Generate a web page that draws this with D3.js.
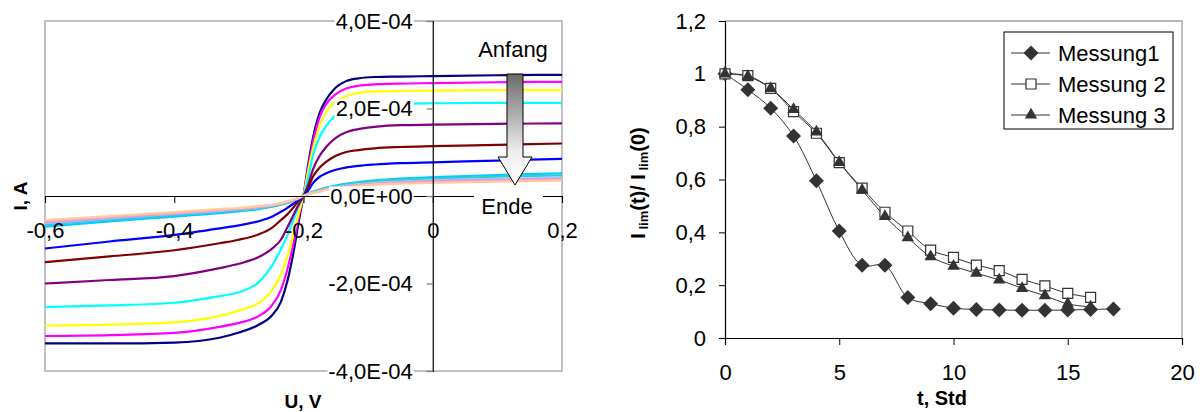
<!DOCTYPE html>
<html><head><meta charset="utf-8">
<script src="https://cdn.jsdelivr.net/npm/d3@7"></script>
<style>
body{margin:0;background:#fff}
svg{display:block}
text{font-family:"Liberation Sans",Arial,sans-serif}
</style>
</head><body>
<svg id="c" width="1202" height="412"></svg>
<script>
// ---------- Left chart data (I-V curves), current in units of 1e-4 A ----------
const voltage = [-0.6,-0.5,-0.4,-0.33,-0.3,-0.27,-0.25,-0.235,-0.225,-0.215,-0.207,-0.2,-0.193,-0.185,-0.175,-0.165,-0.15,-0.135,-0.115,-0.09,-0.05,0,0.1,0.2];
const curveNavy    = [-3.37,-3.37,-3.35,-3.24,-3.12,-2.95,-2.75,-2.42,-1.95,-1.25,-0.55,0,0.70,1.35,1.90,2.20,2.48,2.62,2.69,2.72,2.73,2.74,2.76,2.77];
const curveMagenta = [-3.20,-3.18,-3.13,-2.99,-2.90,-2.75,-2.52,-2.15,-1.68,-1.05,-0.45,0,0.62,1.25,1.80,2.10,2.33,2.45,2.52,2.55,2.57,2.58,2.60,2.61];
const curveYellow  = [-2.96,-2.94,-2.89,-2.74,-2.62,-2.45,-2.18,-1.80,-1.38,-0.85,-0.38,0,0.55,1.10,1.60,1.92,2.15,2.27,2.35,2.39,2.40,2.41,2.42,2.42];
const curveCyan    = [-2.54,-2.50,-2.44,-2.29,-2.20,-1.98,-1.62,-1.22,-0.90,-0.52,-0.22,0,0.40,0.95,1.35,1.60,1.85,1.98,2.05,2.09,2.11,2.12,2.13,2.13];
const curvePurple  = [-2.00,-1.92,-1.83,-1.65,-1.55,-1.40,-1.22,-1.00,-0.72,-0.42,-0.18,0,0.25,0.62,0.92,1.12,1.33,1.45,1.53,1.58,1.62,1.63,1.65,1.66];
const curveDarkRed = [-1.51,-1.38,-1.24,-1.08,-1.00,-0.88,-0.74,-0.55,-0.42,-0.25,-0.10,0,0.18,0.45,0.65,0.78,0.92,1.00,1.05,1.09,1.12,1.14,1.17,1.20];
const curveBlue    = [-1.20,-1.04,-0.89,-0.74,-0.67,-0.58,-0.48,-0.36,-0.27,-0.17,-0.07,0,0.12,0.30,0.44,0.52,0.60,0.65,0.69,0.72,0.75,0.77,0.81,0.85];
const curveSky     = [-0.70,-0.58,-0.47,-0.39,-0.35,-0.30,-0.25,-0.20,-0.16,-0.10,-0.05,0,0.05,0.10,0.15,0.19,0.24,0.28,0.32,0.36,0.40,0.43,0.48,0.52];
const curveTeal    = [-0.65,-0.54,-0.44,-0.36,-0.33,-0.28,-0.24,-0.19,-0.15,-0.10,-0.05,0,0.05,0.09,0.14,0.18,0.22,0.26,0.30,0.34,0.37,0.40,0.44,0.47];
const curvePale    = [-0.62,-0.51,-0.41,-0.34,-0.30,-0.26,-0.22,-0.18,-0.14,-0.09,-0.04,0,0.04,0.08,0.12,0.16,0.20,0.23,0.27,0.30,0.33,0.36,0.39,0.42];
const curveLavender= [-0.60,-0.50,-0.40,-0.33,-0.29,-0.25,-0.21,-0.17,-0.13,-0.09,-0.04,0,0.04,0.08,0.11,0.15,0.19,0.22,0.25,0.28,0.31,0.34,0.37,0.40];
const curveRose    = [-0.58,-0.48,-0.39,-0.32,-0.29,-0.25,-0.21,-0.17,-0.13,-0.09,-0.04,0,0.04,0.08,0.11,0.15,0.18,0.21,0.24,0.27,0.30,0.32,0.35,0.38];
const curveTan     = [-0.55,-0.46,-0.37,-0.30,-0.27,-0.23,-0.20,-0.16,-0.12,-0.08,-0.04,0,0.04,0.07,0.10,0.14,0.17,0.20,0.23,0.26,0.28,0.30,0.33,0.35];
const currentUnit = 1e-4;
const ivColors = ["#000080","#ff00ff","#ffff00","#00ffff","#800080","#800000","#0000ff","#00ccff","#33cccc","#99ccff","#cc99ff","#ff99cc","#ffcc99"];
const ivCurves = [curveNavy,curveMagenta,curveYellow,curveCyan,curvePurple,curveDarkRed,curveBlue,curveSky,curveTeal,curvePale,curveLavender,curveRose,curveTan];
const xTicksIV = [-0.6,-0.4,-0.2,0,0.2];
const xTickLabelsIV = ["-0,6","-0,4","-0,2","0","0,2"];
const yTicksIV = [-4e-4,-2e-4,0,2e-4,4e-4];
const yTickLabelsIV = ["-4,0E-04","-2,0E-04","0,0E+00","2,0E-04","4,0E-04"];

// ---------- Right chart data ----------
const hours1 = [0,1,2,3,4,5,6,7,8,9,10,11,12,13,14,15,16,17];
const messung1 = [1.0,0.94,0.87,0.765,0.595,0.405,0.275,0.275,0.153,0.13,0.113,0.108,0.106,0.105,0.105,0.106,0.108,0.11];
const hours2 = [0,1,2,3,4,5,6,7,8,9,10,11,12,13,14,15,16];
const messung2 = [1.0,0.993,0.945,0.857,0.775,0.664,0.567,0.476,0.405,0.333,0.305,0.276,0.255,0.222,0.197,0.169,0.154];
const hours3 = [0,1,2,3,4,5,6,7,8,9,10,11,12,13,14,15,16];
const messung3 = [1.0,0.99,0.945,0.865,0.78,0.665,0.56,0.46,0.38,0.308,0.272,0.245,0.22,0.188,0.16,0.129,0.118];
const seriesNames = ["Messung1","Messung 2","Messung 3"];
const xTicksT = [0,5,10,15,20];
const xTickLabelsT = ["0","5","10","15","20"];
const yTicksR = [0,0.2,0.4,0.6,0.8,1,1.2];
const yTickLabelsR = ["0","0,2","0,4","0,6","0,8","1","1,2"];

// ---------- drawing ----------
const svg = d3.select("#c");
const FS = 22;

// ===== Left chart =====
const xL = d3.scaleLinear().domain([-0.6,0.2]).range([45,562]);
const yL = d3.scaleLinear().domain([-4e-4,4e-4]).range([371,21]);
const gL = svg.append("g");

gL.append("rect").attr("x",xL(-0.6)).attr("y",yL(4e-4))
  .attr("width",xL(0.2)-xL(-0.6)).attr("height",yL(-4e-4)-yL(4e-4))
  .attr("fill","none").attr("stroke","#a0a0a0").attr("stroke-width",1.3);

const ivLine = d3.line().x((d,i)=>xL(voltage[i])).y(d=>yL(d*currentUnit)).curve(d3.curveMonotoneX);
ivCurves.forEach((c,k)=>{
  gL.append("path").datum(c).attr("d",ivLine)
    .attr("fill","none").attr("stroke",ivColors[k]).attr("stroke-width",2.2).attr("stroke-linejoin","round");
});

// axes
const xAxL = d3.axisBottom(xL).tickValues(xTicksIV).tickFormat((d,i)=>xTickLabelsIV[i]).tickSize(7).tickPadding(19);
const gxL = gL.append("g").attr("transform",`translate(0,${yL(0)})`).call(xAxL);
gxL.select(".domain").attr("stroke","#000").attr("stroke-width",1.2);
gxL.selectAll(".tick line").attr("stroke","#000");
gxL.selectAll("text").attr("font-size",FS).attr("fill","#000").attr("font-family","Liberation Sans, Arial, sans-serif");

const yAxL = d3.axisLeft(yL).tickValues(yTicksIV).tickFormat((d,i)=>yTickLabelsIV[i]).tickSize(6).tickPadding(14);
const gyL = gL.append("g").attr("transform",`translate(${xL(0)},0)`).call(yAxL);
gyL.select(".domain").attr("stroke","#000").attr("stroke-width",1.2);
gyL.selectAll(".tick line").attr("stroke","#808080").attr("stroke-width",1.3);
gyL.selectAll("text").attr("font-size",FS).attr("fill","#000").attr("font-family","Liberation Sans, Arial, sans-serif");
gyL.selectAll(".tick").each(function(){
  const t = d3.select(this).select("text");
  const b = t.node().getBBox();
  d3.select(this).insert("rect","text").attr("x",b.x-1).attr("y",b.y+3).attr("width",b.width+2).attr("height",b.height-6).attr("fill","#fff");
});

// arrow annotation
const defs = svg.append("defs");
const grad = defs.append("linearGradient").attr("id","ag").attr("x1",0).attr("y1",0).attr("x2",0).attr("y2",1);
grad.append("stop").attr("offset","0%").attr("stop-color","#6a6a6a");
grad.append("stop").attr("offset","70%").attr("stop-color","#eeeeee");
grad.append("stop").attr("offset","100%").attr("stop-color","#ffffff");
gL.append("path").attr("d","M507,74 L523,74 L523,157 L532,157 L515,185 L498,157 L507,157 Z")
  .attr("fill","url(#ag)").attr("stroke","#000").attr("stroke-width",1);
gL.append("text").attr("x",513).attr("y",57).attr("text-anchor","middle").attr("font-size",FS).text("Anfang");
gL.append("rect").attr("x",474).attr("y",192).attr("width",69).attr("height",26).attr("fill","#fff");
gL.append("text").attr("x",507).attr("y",214).attr("text-anchor","middle").attr("font-size",FS).text("Ende");

// axis titles
gL.append("text").attr("transform","translate(27,196) rotate(-90)").attr("text-anchor","middle")
  .attr("font-size",19).attr("font-weight","bold").text("I, A");
gL.append("text").attr("x",303).attr("y",408).attr("text-anchor","middle")
  .attr("font-size",19).attr("font-weight","bold").text("U, V");

// ===== Right chart =====
const xR = d3.scaleLinear().domain([0,20]).range([725,1182]);
const yR = d3.scaleLinear().domain([0,1.2]).range([338,21]);
const gR = svg.append("g");
gR.append("path").attr("d",`M${xR(0)},${yR(1.2)} H${xR(20)} V${yR(0)}`).attr("fill","none").attr("stroke","#a0a0a0").attr("stroke-width",1.3);

const xAxR = d3.axisBottom(xR).tickValues(xTicksT).tickFormat((d,i)=>xTickLabelsT[i]).tickSize(7).tickPadding(19);
const gxR = gR.append("g").attr("transform",`translate(0,${yR(0)})`).call(xAxR);
gxR.select(".domain").attr("stroke","#000").attr("stroke-width",1.2);
gxR.selectAll(".tick line").attr("stroke","#000");
gxR.selectAll("text").attr("font-size",FS).attr("fill","#000").attr("font-family","Liberation Sans, Arial, sans-serif");

const yAxR = d3.axisLeft(yR).tickValues(yTicksR).tickFormat((d,i)=>yTickLabelsR[i]).tickSize(6).tickPadding(13);
const gyR = gR.append("g").attr("transform",`translate(${xR(0)},0)`).call(yAxR);
gyR.select(".domain").attr("stroke","#000").attr("stroke-width",1.2);
gyR.selectAll(".tick line").attr("stroke","#000");
gyR.selectAll("text").attr("font-size",FS).attr("fill","#000").attr("font-family","Liberation Sans, Arial, sans-serif");

const mk = "#333333";
const sets = [
  {t:hours1, v:messung1, sym:"diamond"},
  {t:hours2, v:messung2, sym:"square"},
  {t:hours3, v:messung3, sym:"triangle"}
];
function drawMarker(g, sym, x, y){
  if(sym==="diamond"){
    g.append("path").attr("d",d3.symbol(d3.symbolSquare,112)()).attr("transform",`translate(${x},${y}) rotate(45)`).attr("fill",mk);
  } else if(sym==="square"){
    g.append("path").attr("d",d3.symbol(d3.symbolSquare,100)()).attr("transform",`translate(${x},${y})`).attr("fill","#fff").attr("stroke",mk).attr("stroke-width",1.2);
  } else {
    g.append("path").attr("d",d3.symbol(d3.symbolTriangle,66)()).attr("transform",`translate(${x},${y})`).attr("fill",mk);
  }
}
sets.forEach(s=>{
  const ln = d3.line().x((d,i)=>xR(s.t[i])).y(d=>yR(d)).curve(d3.curveCatmullRom.alpha(0.5));
  gR.append("path").datum(s.v).attr("d",ln).attr("fill","none").attr("stroke",mk).attr("stroke-width",1);
});
sets.forEach(s=>{
  const gm = gR.append("g");
  s.v.forEach((v,i)=>drawMarker(gm,s.sym,xR(s.t[i]),yR(v)));
});

// legend
const lg = gR.append("g");
lg.append("rect").attr("x",1004).attr("y",32).attr("width",169).attr("height",97).attr("fill","#fff").attr("stroke","#000").attr("stroke-width",1);
seriesNames.forEach((n,i)=>{
  const cy = 53 + i*31;
  lg.append("line").attr("x1",1011).attr("x2",1050).attr("y1",cy).attr("y2",cy).attr("stroke",mk).attr("stroke-width",1);
  drawMarker(lg, sets[i].sym, 1031, cy);
  lg.append("text").attr("x",1058).attr("y",cy).attr("dy","0.36em").attr("font-size",FS).text(n);
});

// axis titles
const yt = gR.append("text").attr("transform","translate(645,183) rotate(-90)").attr("text-anchor","middle").attr("font-weight","bold").attr("font-size",20);
yt.append("tspan").text("I");
yt.append("tspan").attr("font-size",13).attr("dy",3).text(" lim");
yt.append("tspan").attr("dy",-3).text("(t)/ I");
yt.append("tspan").attr("font-size",13).attr("dy",3).text(" lim");
yt.append("tspan").attr("dy",-3).text("(0)");
gR.append("text").attr("x",942).attr("y",405).attr("text-anchor","middle").attr("font-weight","bold").attr("font-size",20).text("t, Std");
</script>
</body></html>
